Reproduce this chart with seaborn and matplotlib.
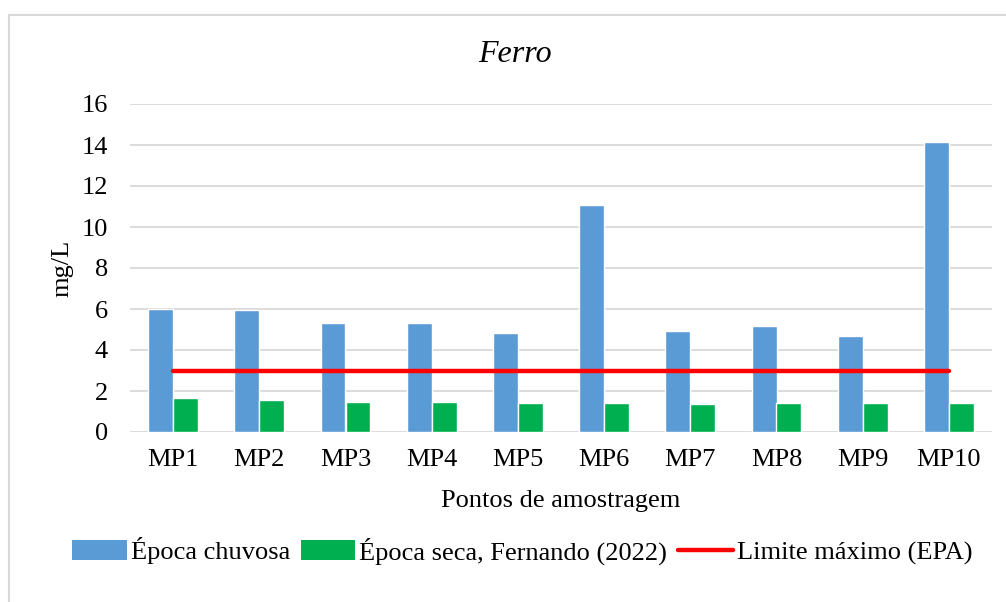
import numpy as np
import pandas as pd
import matplotlib
matplotlib.use("Agg")
import matplotlib.pyplot as plt
import seaborn as sns
from matplotlib.patches import Rectangle
from matplotlib.lines import Line2D
from matplotlib.patches import Patch

# -----------------------------
# Data
# -----------------------------
pontos = ["MP1", "MP2", "MP3", "MP4", "MP5", "MP6", "MP7", "MP8", "MP9", "MP10"]
chuvosa = [6.02, 5.95, 5.33, 5.32, 4.84, 11.09, 4.94, 5.19, 4.68, 14.15]
seca = [1.65, 1.55, 1.45, 1.44, 1.41, 1.41, 1.38, 1.41, 1.41, 1.41]
limite = [3, 3, 3, 3, 3, 3, 3, 3, 3, 3]

serie_chuvosa = "Época chuvosa"
serie_seca = "Época seca, Fernando (2022)"
serie_limite = "Limite máximo (EPA)"

df = pd.DataFrame({
    "ponto": pontos * 2,
    "valor": chuvosa + seca,
    "serie": [serie_chuvosa] * len(pontos) + [serie_seca] * len(pontos),
})

# -----------------------------
# Style
# -----------------------------
sns.set_theme(style="white")
plt.rcParams["font.family"] = ["Liberation Serif", "DejaVu Serif"]
plt.rcParams["text.color"] = "black"
plt.rcParams["axes.labelcolor"] = "black"

BLUE = "#5b9bd5"
GREEN = "#00b050"
RED = "#ff0000"
GRID = "#d9d9d9"
FS = 19

fig = plt.figure(figsize=(10.06, 6.02), dpi=100)
ax = fig.add_axes([130 / 1006, 1 - 432 / 602, 862 / 1006, 328 / 602])

# chart border
fig.patches.append(Rectangle((9 / 1006, -0.1), 1.2, 1 - 15 / 602 + 0.1,
                             transform=fig.transFigure, fill=False,
                             edgecolor=GRID, linewidth=1.5, zorder=0))

sns.barplot(
    data=df, x="ponto", y="valor", hue="serie",
    palette=[BLUE, GREEN], width=0.58, gap=0,
    saturation=1, legend=False, ax=ax, zorder=3,
)
ax.plot(range(len(pontos)), limite, color=RED, linewidth=3.2,
        solid_capstyle="round", zorder=4)

ax.set_ylim(0, 16)
ax.set_yticks(np.arange(0, 17, 2))
ax.set_xlim(-0.5, len(pontos) - 0.5)
ax.yaxis.grid(True, color=GRID, linewidth=1.3, zorder=0)
ax.set_axisbelow(True)
for s in ax.spines.values():
    s.set_visible(False)
ax.tick_params(axis="both", length=0, labelsize=FS, colors="black")
ax.tick_params(axis="x", pad=12)
ax.tick_params(axis="y", pad=16)

fig.text(515 / 1006, 1 - 55 / 602, "Ferro", fontsize=23, style="italic",
         ha="center", va="center")
ax.set_xlabel("Pontos de amostragem", fontsize=FS, labelpad=14)
ax.set_ylabel("mg/L", fontsize=FS, labelpad=6)

handles = [
    Patch(facecolor=BLUE, edgecolor="none"),
    Patch(facecolor=GREEN, edgecolor="none"),
    Line2D([0], [0], color=RED, linewidth=3.2, solid_capstyle="round"),
]
fig.legend(handles, [serie_chuvosa, serie_seca, serie_limite],
           loc="center", bbox_to_anchor=(522 / 1006, 1 - 551 / 602), ncol=3,
           frameon=False, fontsize=FS, handlelength=2.08, handleheight=0.75,
           handletextpad=0.15, columnspacing=0.4)

fig.savefig("out.png", dpi=100)
plt.close(fig)
